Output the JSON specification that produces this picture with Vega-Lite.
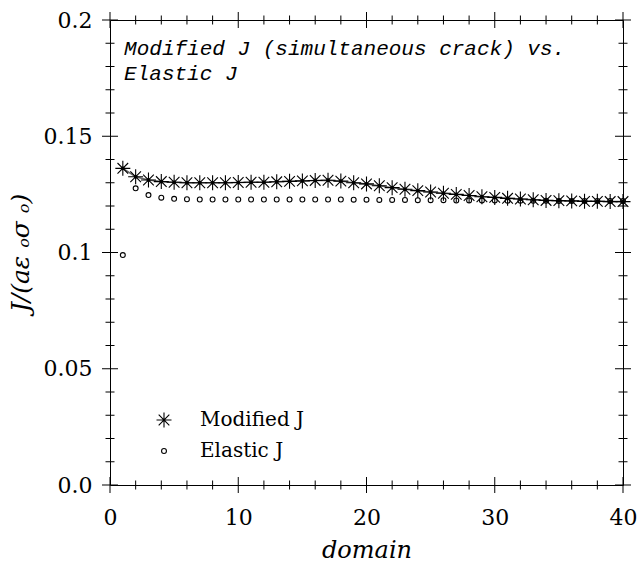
{
  "$schema": "https://vega.github.io/schema/vega-lite/v6.json",
  "width": 513,
  "height": 465,
  "autosize": "none",
  "padding": {"left": 110, "top": 20, "right": 15, "bottom": 82},
  "background": "white",
  "config": {
    "view": {"stroke": "black", "strokeWidth": 1},
    "axis": {"grid": false, "labelColor": "black", "titleColor": "black", "labelFont": "DejaVu Serif", "titleFont": "DejaVu Serif"}
  },
  "datasets": {
    "pts": [
      {"domain": 1, "series": "Modified J", "J": 0.1362},
      {"domain": 2, "series": "Modified J", "J": 0.1326},
      {"domain": 3, "series": "Modified J", "J": 0.1312},
      {"domain": 4, "series": "Modified J", "J": 0.1305},
      {"domain": 5, "series": "Modified J", "J": 0.1302},
      {"domain": 6, "series": "Modified J", "J": 0.1300},
      {"domain": 7, "series": "Modified J", "J": 0.1300},
      {"domain": 8, "series": "Modified J", "J": 0.1300},
      {"domain": 9, "series": "Modified J", "J": 0.1300},
      {"domain": 10, "series": "Modified J", "J": 0.1301},
      {"domain": 11, "series": "Modified J", "J": 0.1302},
      {"domain": 12, "series": "Modified J", "J": 0.1302},
      {"domain": 13, "series": "Modified J", "J": 0.1304},
      {"domain": 14, "series": "Modified J", "J": 0.1306},
      {"domain": 15, "series": "Modified J", "J": 0.1308},
      {"domain": 16, "series": "Modified J", "J": 0.1310},
      {"domain": 17, "series": "Modified J", "J": 0.1311},
      {"domain": 18, "series": "Modified J", "J": 0.1307},
      {"domain": 19, "series": "Modified J", "J": 0.1300},
      {"domain": 20, "series": "Modified J", "J": 0.1295},
      {"domain": 21, "series": "Modified J", "J": 0.1287},
      {"domain": 22, "series": "Modified J", "J": 0.1279},
      {"domain": 23, "series": "Modified J", "J": 0.1272},
      {"domain": 24, "series": "Modified J", "J": 0.1266},
      {"domain": 25, "series": "Modified J", "J": 0.1260},
      {"domain": 26, "series": "Modified J", "J": 0.1255},
      {"domain": 27, "series": "Modified J", "J": 0.1250},
      {"domain": 28, "series": "Modified J", "J": 0.1245},
      {"domain": 29, "series": "Modified J", "J": 0.1240},
      {"domain": 30, "series": "Modified J", "J": 0.1237},
      {"domain": 31, "series": "Modified J", "J": 0.1233},
      {"domain": 32, "series": "Modified J", "J": 0.1230},
      {"domain": 33, "series": "Modified J", "J": 0.1227},
      {"domain": 34, "series": "Modified J", "J": 0.1224},
      {"domain": 35, "series": "Modified J", "J": 0.1223},
      {"domain": 36, "series": "Modified J", "J": 0.1222},
      {"domain": 37, "series": "Modified J", "J": 0.1220},
      {"domain": 38, "series": "Modified J", "J": 0.1220},
      {"domain": 39, "series": "Modified J", "J": 0.1219},
      {"domain": 40, "series": "Modified J", "J": 0.1219},
      {"domain": 1, "series": "Elastic J", "J": 0.0989},
      {"domain": 2, "series": "Elastic J", "J": 0.1276},
      {"domain": 3, "series": "Elastic J", "J": 0.1247},
      {"domain": 4, "series": "Elastic J", "J": 0.1236},
      {"domain": 5, "series": "Elastic J", "J": 0.1231},
      {"domain": 6, "series": "Elastic J", "J": 0.1229},
      {"domain": 7, "series": "Elastic J", "J": 0.1228},
      {"domain": 8, "series": "Elastic J", "J": 0.1228},
      {"domain": 9, "series": "Elastic J", "J": 0.1228},
      {"domain": 10, "series": "Elastic J", "J": 0.1228},
      {"domain": 11, "series": "Elastic J", "J": 0.1228},
      {"domain": 12, "series": "Elastic J", "J": 0.1228},
      {"domain": 13, "series": "Elastic J", "J": 0.1228},
      {"domain": 14, "series": "Elastic J", "J": 0.1228},
      {"domain": 15, "series": "Elastic J", "J": 0.1228},
      {"domain": 16, "series": "Elastic J", "J": 0.1228},
      {"domain": 17, "series": "Elastic J", "J": 0.1228},
      {"domain": 18, "series": "Elastic J", "J": 0.1228},
      {"domain": 19, "series": "Elastic J", "J": 0.1227},
      {"domain": 20, "series": "Elastic J", "J": 0.1227},
      {"domain": 21, "series": "Elastic J", "J": 0.1226},
      {"domain": 22, "series": "Elastic J", "J": 0.1226},
      {"domain": 23, "series": "Elastic J", "J": 0.1226},
      {"domain": 24, "series": "Elastic J", "J": 0.1225},
      {"domain": 25, "series": "Elastic J", "J": 0.1225},
      {"domain": 26, "series": "Elastic J", "J": 0.1225},
      {"domain": 27, "series": "Elastic J", "J": 0.1224},
      {"domain": 28, "series": "Elastic J", "J": 0.1224},
      {"domain": 29, "series": "Elastic J", "J": 0.1224},
      {"domain": 30, "series": "Elastic J", "J": 0.1224},
      {"domain": 31, "series": "Elastic J", "J": 0.1223},
      {"domain": 32, "series": "Elastic J", "J": 0.1223},
      {"domain": 33, "series": "Elastic J", "J": 0.1223},
      {"domain": 34, "series": "Elastic J", "J": 0.1223},
      {"domain": 35, "series": "Elastic J", "J": 0.1222},
      {"domain": 36, "series": "Elastic J", "J": 0.1222},
      {"domain": 37, "series": "Elastic J", "J": 0.1222},
      {"domain": 38, "series": "Elastic J", "J": 0.1222},
      {"domain": 39, "series": "Elastic J", "J": 0.1222},
      {"domain": 40, "series": "Elastic J", "J": 0.1222}
    ],
    "notes": [
      {"label": "Modified J (simultaneous crack) vs.", "x": 1.1, "y": 0.1849},
      {"label": "Elastic J", "x": 1.1, "y": 0.1742}
    ],
    "xt": [
      {"v": 0, "kind": "major"}, {"v": 2, "kind": "minor"}, {"v": 4, "kind": "minor"}, {"v": 6, "kind": "minor"}, {"v": 8, "kind": "minor"},
      {"v": 10, "kind": "major"}, {"v": 12, "kind": "minor"}, {"v": 14, "kind": "minor"}, {"v": 16, "kind": "minor"}, {"v": 18, "kind": "minor"},
      {"v": 20, "kind": "major"}, {"v": 22, "kind": "minor"}, {"v": 24, "kind": "minor"}, {"v": 26, "kind": "minor"}, {"v": 28, "kind": "minor"},
      {"v": 30, "kind": "major"}, {"v": 32, "kind": "minor"}, {"v": 34, "kind": "minor"}, {"v": 36, "kind": "minor"}, {"v": 38, "kind": "minor"},
      {"v": 40, "kind": "major"}
    ],
    "yt": [
      {"v": 0, "kind": "major"}, {"v": 0.01, "kind": "minor"}, {"v": 0.02, "kind": "minor"}, {"v": 0.03, "kind": "minor"}, {"v": 0.04, "kind": "minor"},
      {"v": 0.05, "kind": "major"}, {"v": 0.06, "kind": "minor"}, {"v": 0.07, "kind": "minor"}, {"v": 0.08, "kind": "minor"}, {"v": 0.09, "kind": "minor"},
      {"v": 0.1, "kind": "major"}, {"v": 0.11, "kind": "minor"}, {"v": 0.12, "kind": "minor"}, {"v": 0.13, "kind": "minor"}, {"v": 0.14, "kind": "minor"},
      {"v": 0.15, "kind": "major"}, {"v": 0.16, "kind": "minor"}, {"v": 0.17, "kind": "minor"}, {"v": 0.18, "kind": "minor"}, {"v": 0.19, "kind": "minor"},
      {"v": 0.2, "kind": "major"}
    ]
  },
  "resolve": {"axis": {"x": "independent", "y": "independent"}},
  "layer": [
    {
      "data": {"name": "pts"},
      "transform": [{"filter": "datum.series === 'Modified J'"}],
      "mark": {"type": "line", "stroke": "#666666", "strokeWidth": 1.5},
      "encoding": {
        "x": {"field": "domain", "type": "quantitative", "scale": {"domain": [0, 40], "nice": false, "zero": false},
          "axis": {"orient": "bottom", "values": [0, 10, 20, 30, 40], "domain": false, "labelFlush": false, "ticks": true, "tickOpacity": 0, "tickSize": 14, "labelFontSize": 22, "labelPadding": 8, "title": "domain", "titleFontSize": 24, "titleFontStyle": "italic", "titleFontWeight": "normal", "titlePadding": 10}},
        "y": {"field": "J", "type": "quantitative", "scale": {"domain": [0, 0.2], "nice": false, "zero": false},
          "axis": {"orient": "left", "values": [0, 0.05, 0.1, 0.15, 0.2], "domain": false, "labelFlush": false, "ticks": true, "tickOpacity": 0, "labelExpr": "datum.value === 0 ? '0.0' : datum.value === 0.05 ? '0.05' : datum.value === 0.1 ? '0.1' : datum.value === 0.15 ? '0.15' : '0.2'", "tickSize": 15, "labelFontSize": 22, "labelPadding": 3, "title": "J/(aε ₒσ ₒ)", "titleFontSize": 25, "titleFontStyle": "italic", "titleFontWeight": "normal", "titlePadding": 10}}
      }
    },
    {
      "data": {"name": "pts"},
      "transform": [{"filter": "datum.series === 'Modified J'"}],
      "mark": {"type": "point", "filled": true, "shape": "circle", "size": 14, "color": "black", "opacity": 1},
      "encoding": {
        "x": {"field": "domain", "type": "quantitative", "axis": null},
        "y": {"field": "J", "type": "quantitative", "axis": null}
      }
    },
    {
      "data": {"name": "pts"},
      "mark": {"type": "point", "filled": false, "strokeWidth": 1.1, "color": "black", "opacity": 1},
      "encoding": {
        "x": {"field": "domain", "type": "quantitative", "axis": null},
        "y": {"field": "J", "type": "quantitative", "axis": null},
        "shape": {"field": "series", "type": "nominal",
          "scale": {"domain": ["Modified J", "Elastic J"], "range": ["M-1,0L1,0M0,-1L0,1M-0.71,-0.71L0.71,0.71M-0.71,0.71L0.71,-0.71", "circle"]},
          "legend": {"orient": "none", "legendX": 44, "legendY": 390, "title": null, "labelFont": "DejaVu Serif", "labelFontSize": 20, "labelColor": "black", "labelOffset": 26, "rowPadding": 11, "symbolStrokeColor": "black", "symbolStrokeWidth": 1.1, "symbolFillColor": "transparent"}},
        "size": {"field": "series", "type": "nominal",
          "scale": {"domain": ["Modified J", "Elastic J"], "range": [225, 24]},
          "legend": {"orient": "none", "legendX": 44, "legendY": 390, "title": null, "labelFont": "DejaVu Serif", "labelFontSize": 20, "labelColor": "black", "labelOffset": 26, "rowPadding": 11, "symbolStrokeColor": "black", "symbolStrokeWidth": 1.1, "symbolFillColor": "transparent"}}
      }
    },
    {
      "data": {"name": "notes"},
      "mark": {"type": "text", "align": "left", "baseline": "alphabetic", "font": "Liberation Mono", "fontStyle": "italic", "fontSize": 21, "color": "black"},
      "encoding": {
        "x": {"field": "x", "type": "quantitative", "axis": null},
        "y": {"field": "y", "type": "quantitative", "axis": null},
        "text": {"field": "label"}
      }
    },
    {
      "data": {"name": "xt"},
      "transform": [{"filter": "datum.kind === 'major'"}],
      "mark": {"type": "tick", "orient": "vertical", "size": 16, "thickness": 1, "color": "black", "opacity": 1},
      "encoding": {
        "x": {"field": "v", "type": "quantitative", "axis": null},
        "y": {"datum": 0, "type": "quantitative", "axis": null}
      }
    },
    {
      "data": {"name": "xt"},
      "transform": [{"filter": "datum.kind === 'minor'"}],
      "mark": {"type": "tick", "orient": "vertical", "size": 9, "thickness": 1, "color": "black", "opacity": 1},
      "encoding": {
        "x": {"field": "v", "type": "quantitative", "axis": null},
        "y": {"datum": 0, "type": "quantitative", "axis": null}
      }
    },
    {
      "data": {"name": "xt"},
      "transform": [{"filter": "datum.kind === 'major'"}],
      "mark": {"type": "tick", "orient": "vertical", "size": 16, "thickness": 1, "color": "black", "opacity": 1},
      "encoding": {
        "x": {"field": "v", "type": "quantitative", "axis": null},
        "y": {"datum": 0.2, "type": "quantitative", "axis": null}
      }
    },
    {
      "data": {"name": "xt"},
      "transform": [{"filter": "datum.kind === 'minor'"}],
      "mark": {"type": "tick", "orient": "vertical", "size": 9, "thickness": 1, "color": "black", "opacity": 1},
      "encoding": {
        "x": {"field": "v", "type": "quantitative", "axis": null},
        "y": {"datum": 0.2, "type": "quantitative", "axis": null}
      }
    },
    {
      "data": {"name": "yt"},
      "transform": [{"filter": "datum.kind === 'major'"}],
      "mark": {"type": "tick", "orient": "horizontal", "size": 16, "thickness": 1, "color": "black", "opacity": 1},
      "encoding": {
        "y": {"field": "v", "type": "quantitative", "axis": null},
        "x": {"datum": 0, "type": "quantitative", "axis": null}
      }
    },
    {
      "data": {"name": "yt"},
      "transform": [{"filter": "datum.kind === 'minor'"}],
      "mark": {"type": "tick", "orient": "horizontal", "size": 9, "thickness": 1, "color": "black", "opacity": 1},
      "encoding": {
        "y": {"field": "v", "type": "quantitative", "axis": null},
        "x": {"datum": 0, "type": "quantitative", "axis": null}
      }
    },
    {
      "data": {"name": "yt"},
      "transform": [{"filter": "datum.kind === 'major'"}],
      "mark": {"type": "tick", "orient": "horizontal", "size": 16, "thickness": 1, "color": "black", "opacity": 1},
      "encoding": {
        "y": {"field": "v", "type": "quantitative", "axis": null},
        "x": {"datum": 40, "type": "quantitative", "axis": null}
      }
    },
    {
      "data": {"name": "yt"},
      "transform": [{"filter": "datum.kind === 'minor'"}],
      "mark": {"type": "tick", "orient": "horizontal", "size": 9, "thickness": 1, "color": "black", "opacity": 1},
      "encoding": {
        "y": {"field": "v", "type": "quantitative", "axis": null},
        "x": {"datum": 40, "type": "quantitative", "axis": null}
      }
    }
  ]
}
